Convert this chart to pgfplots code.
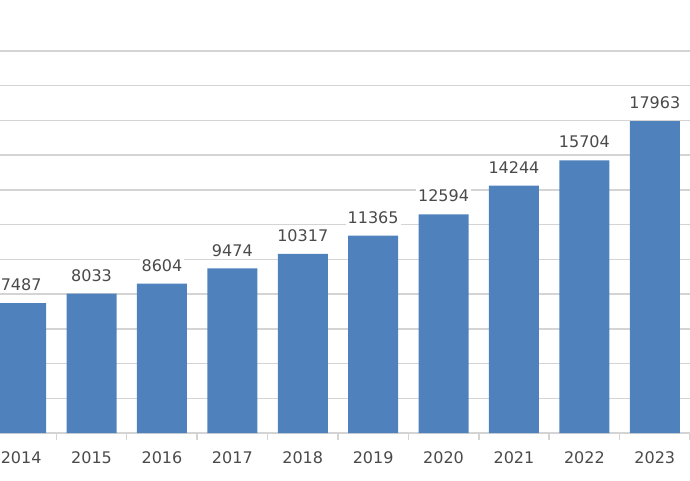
\documentclass[border=0pt]{standalone}
\usepackage{fontspec}
\setmainfont{DejaVu Sans}
\usepackage{pgfplots}
\pgfplotsset{compat=1.18}
\definecolor{barblue}{HTML}{4F81BD}
\definecolor{gridc}{HTML}{D4D4D4}
\definecolor{txt}{HTML}{4A4A4A}
\begin{document}
\begin{tikzpicture}
\begin{axis}[
    name=ax,
    scale only axis,
    width=690pt, height=382pt,
    xmin=-0.3, xmax=9.5,
    ymin=0, ymax=22000,
    ytick={0,2000,...,22000},
    yticklabels={},
    scaled y ticks=false,
    ymajorgrids,
    grid style={gridc, line width=1.5pt},
    axis x line*=bottom,
    axis y line*=left,
    y axis line style={draw=none},
    major y tick style={draw=none},
    x axis line style={gridc, line width=1.5pt, -},
    xtick={0,...,9},
    xticklabels={2014,2015,2016,2017,2018,2019,2020,2021,2022,2023},
    major x tick style={draw=none},
    minor xtick={0.5,1.5,...,9.5},
    minor x tick style={gridc, line width=1.5pt},
    minor tick length=7pt,
    tick align=outside,
    xticklabel style={font=\fontsize{16}{19}\selectfont, text=txt, inner sep=0pt, anchor=north, yshift=-14pt},
    /pgf/number format/assume math mode=true,
    ybar, bar width=50pt,
    nodes near coords,
    every node near coord/.append style={font=\fontsize{16}{19}\selectfont, text=txt, fill=white, inner sep=2pt, anchor=south, yshift=10pt},
    /pgf/number format/.cd, fixed, 1000 sep={},
]
\addplot[fill=barblue, draw=none] coordinates {
    (0,7487) (1,8033) (2,8604) (3,9474) (4,10317)
    (5,11365) (6,12594) (7,14244) (8,15704) (9,17963)};
\end{axis}
\pgfresetboundingbox
\path[use as bounding box] (ax.south west) ++(0,-47pt) rectangle ++(690pt,480pt);
\end{tikzpicture}
\end{document}
